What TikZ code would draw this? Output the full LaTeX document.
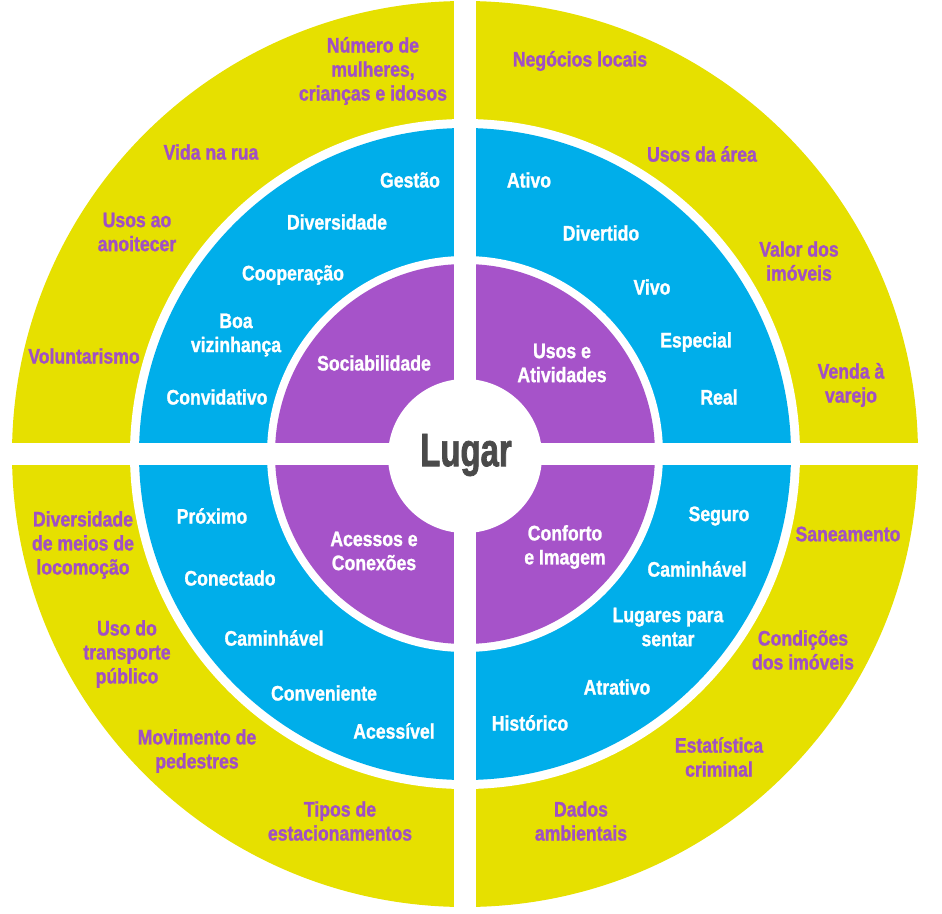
\documentclass[tikz,border=0pt]{standalone}
\usepackage{fontspec}
\newfontfamily\ringfont{Liberation Sans}[FakeStretch=0.84,FakeBold=1.2]
\newfontfamily\hubfont{Liberation Sans}[FakeStretch=0.7,FakeBold=1.5]
\definecolor{ringyellow}{HTML}{E6E000}
\definecolor{ringblue}{HTML}{00AEEA}
\definecolor{ringpurple}{HTML}{A653C9}
\definecolor{labpurple}{HTML}{A050C4}
\definecolor{hubgray}{HTML}{4A4A4A}

\begin{document}
\begin{tikzpicture}[
  x=1pt, y=-1pt,
  lab/.style={font=\ringfont\bfseries\fontsize{21}{24}\selectfont, align=center, inner sep=0pt},
  outer/.style={lab, text=labpurple},
  inner/.style={lab, text=white}
]
\useasboundingbox (0,0) rectangle (942,913);
\coordinate (c) at (465,454);

% rings
\fill[ringyellow] (c) circle (453pt);
\fill[white] (c) circle (335pt);
\fill[ringblue] (c) circle (326pt);
\fill[white] (c) circle (198pt);
\fill[ringpurple] (c) circle (190pt);
% cross and hub
\fill[white] (454,0) rectangle (476,913);
\fill[white] (0,443) rectangle (942,465);
\fill[white] (465,456) circle (77pt);
\node[font=\hubfont\bfseries\fontsize{47}{47}\selectfont, text=hubgray, inner sep=0pt] (lugar) at (466,455) {Lugar};

% centre quarters
\node[inner] (soc) at (374,363) {Sociabilidade};
\node[inner] (usos) at (562,363) {Usos e\\Atividades};
\node[inner] (aces) at (374,551) {Acessos e\\Conex\~oes};
\node[inner] (conf) at (565,547) {Conforto\\e Imagem};

% blue ring, top left
\node[inner] (gestao) at (410,180) {Gest\~ao};
\node[inner] (divers) at (337,222) {Diversidade};
\node[inner] (coop) at (293,275) {Coopera\c{c}\~ao};
\node[inner] (boa) at (236,335) {Boa\\vizinhan\c{c}a};
\node[inner] (convid) at (217,397) {Convidativo};
% blue ring, top right
\node[inner] (ativo) at (529,180) {Ativo};
\node[inner] (divert) at (601,233) {Divertido};
\node[inner] (vivo) at (652,287) {Vivo};
\node[inner] (espec) at (696,342) {Especial};
\node[inner] (real) at (719,397) {Real};
% blue ring, bottom left
\node[inner] (prox) at (212,516) {Pr\'oximo};
\node[inner] (conect) at (230,578) {Conectado};
\node[inner] (camin) at (274,638) {Caminh\'avel};
\node[inner] (conven) at (324,693) {Conveniente};
\node[inner] (acessiv) at (394,731) {Acess\'ivel};
% blue ring, bottom right
\node[inner] (seguro) at (719,516) {Seguro};
\node[inner] (caminb) at (697,569) {Caminh\'avel};
\node[inner] (sentar) at (668,627) {Lugares para\\sentar};
\node[inner] (atrat) at (617,687) {Atrativo};
\node[inner] (histor) at (530,723) {Hist\'orico};

% yellow ring, top left
\node[outer] (numero) at (373,71) {N\'umero de\\mulheres,\\crian\c{c}as e idosos};
\node[outer] (vida) at (211,152) {Vida na rua};
\node[outer] (anoit) at (137,232) {Usos ao\\anoitecer};
\node[outer] (volunt) at (84,356) {Voluntarismo};
% yellow ring, top right
\node[outer] (negoc) at (580,61) {Neg\'ocios locais};
\node[outer] (area) at (702,154) {Usos da \'area};
\node[outer] (valor) at (799,261) {Valor dos\\im\'oveis};
\node[outer] (venda) at (851,385) {Venda \`a\\varejo};
% yellow ring, bottom left
\node[outer] (locom) at (83,545) {Diversidade\\de meios de\\locomo\c{c}\~ao};
\node[outer] (transp) at (127,654) {Uso do\\transporte\\p\'ublico};
\node[outer] (pedest) at (197,751) {Movimento de\\pedestres};
\node[outer] (estac) at (340,821) {Tipos de\\estacionamentos};
% yellow ring, bottom right
\node[outer] (saneam) at (848,534) {Saneamento};
\node[outer] (condic) at (803,650) {Condi\c{c}\~oes\\dos im\'oveis};
\node[outer] (crimin) at (719,757) {Estat\'istica\\criminal};
\node[outer] (ambient) at (581,821) {Dados\\ambientais};
\end{tikzpicture}
\end{document}
